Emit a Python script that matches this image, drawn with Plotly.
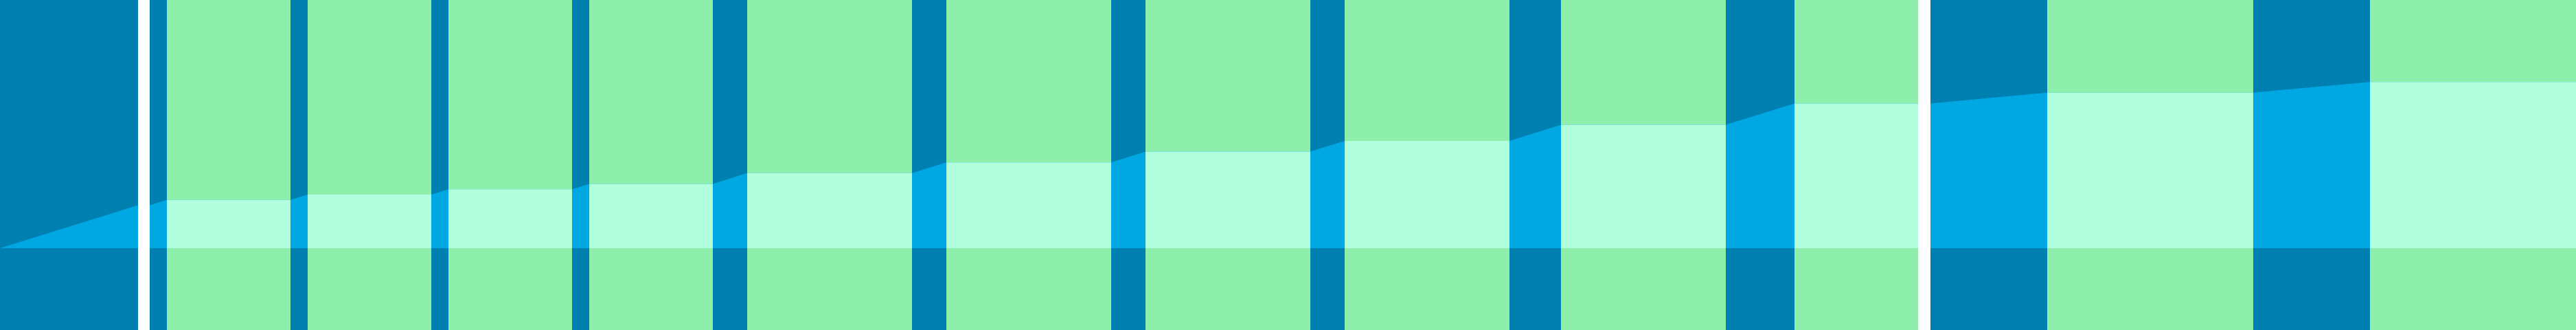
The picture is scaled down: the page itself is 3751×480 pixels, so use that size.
import plotly.graph_objects as go

# ---- data (x in time units, y in level units) ----
# green "plateau" periods
plateau_start = [48.6, 89.6, 130.6, 171.6, 217.6, 275.6, 333.6, 391.6, 454.6, 522.6, 596.2, 690.2]
plateau_end   = [84.6, 125.6, 166.6, 207.6, 265.6, 323.6, 381.6, 439.6, 502.6, 558.6, 656.2, 750.2]
plateau_level = [9, 10, 11, 12, 14, 16, 18, 20, 23, 27, 29, 31]

# cumulative line (rises during dark periods, flat during plateaus)
line_x = [0, 40.2, 43.6, 48.6, 84.6, 89.6, 125.6, 130.6, 166.6, 171.6, 207.6, 217.6,
          265.6, 275.6, 323.6, 333.6, 381.6, 391.6, 439.6, 454.6, 502.6, 522.6,
          558.6, 562.2, 596.2, 656.2, 690.2, 750.2]
line_y = [0, 8, 8, 9, 9, 10, 10, 11, 11, 12, 12, 14,
          14, 16, 16, 18, 18, 20, 20, 23, 23, 27,
          27, 27, 29, 29, 31, 31]

# breaks (white gaps)
gap_start = [40.2, 558.6]
gap_end   = [43.6, 562.2]

X_RANGE = [0, 750.2]
Y_RANGE = [-119 / 7.8, 361 / 7.8]

DARK = "#0080b0"
CYAN = "#00a8e3"
GREEN = "#8eeeac"
PALE = "#b2ffde"

fig = go.Figure()

# cyan area under the line
fig.add_trace(go.Scatter(
    x=line_x, y=line_y, mode="lines", fill="tozeroy",
    fillcolor=CYAN, line=dict(width=0, color=CYAN), hoverinfo="skip",
))

# pale area inside plateau periods
px, py = [], []
for s, e, l in zip(plateau_start, plateau_end, plateau_level):
    px += [s, e, e, s, s, None]
    py += [0, 0, l, l, 0, None]
fig.add_trace(go.Scatter(
    x=px, y=py, mode="lines", fill="toself",
    fillcolor=PALE, line=dict(width=0, color=PALE), hoverinfo="skip",
))

shapes = []
for s, e in zip(plateau_start, plateau_end):
    shapes.append(dict(type="rect", xref="x", yref="paper", x0=s, x1=e, y0=0, y1=1,
                       fillcolor=GREEN, line=dict(width=0), layer="below"))
for s, e in zip(gap_start, gap_end):
    shapes.append(dict(type="rect", xref="x", yref="paper", x0=s, x1=e, y0=0, y1=1,
                       fillcolor="white", line=dict(width=0), layer="above"))

fig.update_layout(
    width=3751, height=480,
    margin=dict(l=0, r=0, t=0, b=0),
    plot_bgcolor=DARK, paper_bgcolor="white",
    showlegend=False,
    shapes=shapes,
    xaxis=dict(range=X_RANGE, visible=False, fixedrange=True),
    yaxis=dict(range=Y_RANGE, visible=False, fixedrange=True),
)

fig.write_html("out.html", config={"displayModeBar": False},
               post_script="document.body.style.margin='0';document.body.style.overflow='hidden';")
